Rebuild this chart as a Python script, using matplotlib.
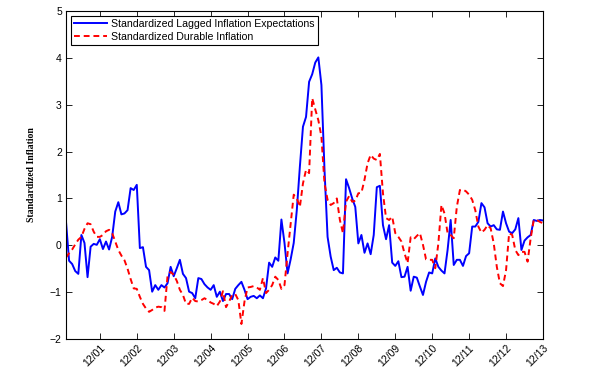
import numpy as np
import matplotlib
matplotlib.use('Agg')
import matplotlib.pyplot as plt

# monthly data, Jan 2001 .. Dec 2013
lagged_expect = [
    0.50, -0.33, -0.40, -0.55, -0.61, 0.22, 0.05, -0.68, -0.03, 0.03,
    0.01, 0.13, -0.08, 0.08, -0.09, 0.18, 0.72, 0.92, 0.66, 0.68,
    0.75, 1.22, 1.18, 1.29, -0.06, -0.04, -0.46, -0.53, -0.99, -0.85,
    -0.95, -0.85, -0.90, -0.81, -0.46, -0.66, -0.49, -0.31, -0.61, -0.70,
    -0.99, -1.02, -1.13, -0.70, -0.72, -0.83, -0.90, -0.95, -0.85, -1.10,
    -0.99, -1.19, -1.04, -1.04, -1.15, -0.93, -0.85, -0.78, -0.95, -1.15,
    -1.10, -1.08, -1.13, -1.07, -1.13, -0.92, -0.37, -0.46, -0.26, -0.33,
    0.55, 0.05, -0.60, -0.30, 0.05, 0.75, 1.68, 2.53, 2.74, 3.49,
    3.65, 3.90, 4.01, 3.42, 1.61, 0.18, -0.24, -0.53, -0.48, -0.58,
    -0.60, 1.41, 1.22, 1.00, 0.82, 0.04, 0.22, -0.16, 0.04, -0.19,
    0.22, 1.24, 1.27, 0.43, 0.13, 0.43, -0.37, -0.44, -0.34, -0.68,
    -0.67, -0.46, -0.97, -0.67, -0.69, -0.88, -1.06, -0.78, -0.58, -0.60,
    -0.28, -0.46, -0.54, -0.60, -0.10, 0.54, -0.42, -0.31, -0.31, -0.44,
    -0.23, -0.17, 0.40, 0.40, 0.50, 0.90, 0.81, 0.47, 0.40, 0.43,
    0.34, 0.33, 0.72, 0.47, 0.29, 0.26, 0.34, 0.58, -0.10, 0.10,
    0.17, 0.22, 0.54, 0.52, 0.54, 0.53,
]
durable_infl = [
    -0.26, -0.17, -0.09, 0.02, 0.12, 0.18, 0.35, 0.47, 0.45, 0.29,
    0.18, 0.18, 0.22, 0.30, 0.33, 0.26, 0.08, -0.10, -0.22, -0.32,
    -0.50, -0.72, -0.92, -0.93, -1.10, -1.25, -1.35, -1.42, -1.38, -1.33,
    -1.31, -1.32, -1.40, -0.65, -0.57, -0.63, -0.76, -0.95, -1.06, -1.25,
    -1.25, -1.12, -1.19, -1.20, -1.17, -1.13, -1.17, -1.22, -1.25, -1.30,
    -1.20, -0.98, -1.32, -1.20, -1.06, -1.04, -1.17, -1.68, -1.20, -0.90,
    -0.89, -0.87, -0.90, -0.95, -0.70, -1.02, -0.95, -0.85, -0.67, -0.74,
    -0.93, -0.85, -0.17, 0.45, 1.08, 1.00, 0.82, 1.32, 1.61, 1.54,
    3.14, 2.90, 2.67, 2.32, 1.32, 0.97, 0.86, 0.90, 1.00, 0.54,
    0.26, 0.93, 1.05, 0.93, 0.95, 1.11, 1.12, 1.40, 1.75, 1.93,
    1.85, 1.82, 1.95, 1.11, 0.58, 0.54, 0.61, 0.26, 0.18, 0.08,
    -0.17, -0.38, 0.17, 0.13, 0.20, 0.26, 0.01, -0.30, -0.31, -0.31,
    -0.49, 0.04, 0.86, 0.68, 0.26, 0.22, 0.15, 0.82, 1.18, 1.19,
    1.15, 1.08, 0.97, 0.75, 0.40, 0.27, 0.33, 0.43, 0.36, 0.04,
    -0.46, -0.81, -0.87, -0.53, 0.26, 0.22, -0.10, -0.21, -0.14, -0.14,
    -0.35, 0.15, 0.54, 0.54, 0.50, 0.47,
]
tick_labels = ['12/01', '12/02', '12/03', '12/04', '12/05', '12/06', '12/07',
               '12/08', '12/09', '12/10', '12/11', '12/12', '12/13']

months = np.arange(len(lagged_expect))
tick_pos = [11 + 12 * k for k in range(len(tick_labels))]

plt.rcParams['font.family'] = ['Liberation Sans', 'DejaVu Sans']

fig = plt.figure(figsize=(5.92, 3.72), dpi=100)
ax = fig.add_axes([0.1115, 0.0887, 0.8057, 0.8817])

ax.plot(months, lagged_expect, color='#0000FF', lw=1.4,
        label='Standardized Lagged Inflation Expectations')
ax.plot(months, durable_infl, color='#FF0000', lw=1.4, dashes=(3, 2),
        label='Standardized Durable Inflation')

ax.set_xlim(0, len(lagged_expect) - 1)
ax.set_ylim(-2, 5)
ax.set_yticks(range(-2, 6))
ax.set_xticks(tick_pos)
ax.set_xticklabels(tick_labels, rotation=45, ha='right', va='top',
                   rotation_mode='anchor')
ax.tick_params(direction='in', top=True, right=True, length=4, width=0.6,
               labelsize=7.5, pad=3)
for s in ax.spines.values():
    s.set_linewidth(0.8)

ax.set_ylabel('Standardized Inflation', family='Liberation Serif',
              fontweight='bold', fontsize=7, labelpad=10)

leg = ax.legend(loc='upper left', fontsize=7.6, fancybox=False, framealpha=1,
                edgecolor='black', borderaxespad=0.45, handlelength=3.1,
                handletextpad=0.4, borderpad=0.3, labelspacing=0.25)
leg.get_frame().set_linewidth(0.8)

fig.savefig('out.png', dpi=100)
